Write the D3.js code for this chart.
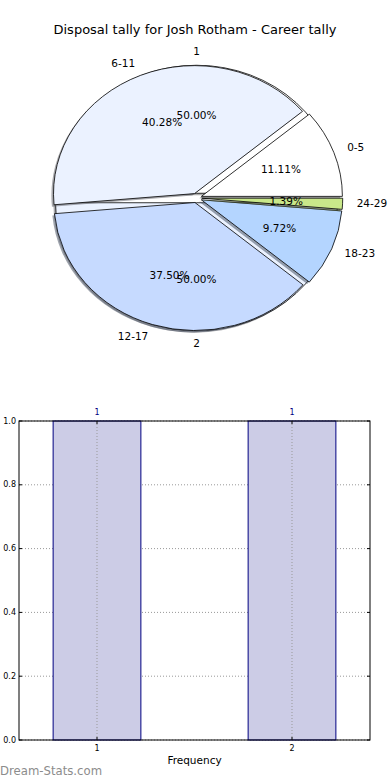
<!DOCTYPE html>
<html>
<head>
<meta charset="utf-8">
<script src="https://cdn.jsdelivr.net/npm/d3@7"></script>
<style>
  body { margin: 0; background: #fff; }
  svg { display: block; font-family: "DejaVu Sans", sans-serif; }
</style>
</head>
<body>
<svg width="390" height="780"></svg>
<script>
// pie data
var outerLabels = ["1", "2"];
var outerValues = [1, 1];
var outerColors = ["#ffffff", "#ebf2ff"];

var bandLabels = ["0-5", "6-11", "12-17", "18-23", "24-29"];
var bandValues = [8, 29, 27, 7, 1];
var bandColors = ["#ffffff", "#ebf2ff", "#c6daff", "#b4d5ff", "#c9e88a"];

// bar data
var barCats = [1, 2];
var barValues = [1, 1];
var yTicks = [0, 0.2, 0.4, 0.6, 0.8, 1.0];

var svg = d3.select("svg");

svg.append("text")
    .attr("x", 195).attr("y", 30)
    .attr("text-anchor", "middle").attr("dominant-baseline", "middle")
    .style("font-size", "13px")
    .text("Disposal tally for Josh Rotham - Career tally");

// pie is squashed into an ellipse, like the original
const cx = 196.5, cy = 198, rx = 141, ry = 128;
const explode = 0.037;

const arc = d3.arc().innerRadius(0).outerRadius(ry);
const pie = d3.pie().sort(null).startAngle(0).endAngle(2 * Math.PI);

var pieLayer = svg.append("g");
var textLayer = svg.append("g");

function drawPie(labels, values, colors) {
    const slices = pie(values);
    slices.forEach((s, i) => {
        // matplotlib angles: counter-clockwise from east
        const t1 = s.startAngle, t2 = s.endAngle;
        const tm = (t1 + t2) / 2;
        const ox = cx + explode * rx * Math.cos(tm);
        const oy = cy - explode * ry * Math.sin(tm);
        const d = arc({ startAngle: Math.PI / 2 - t2, endAngle: Math.PI / 2 - t1 });

        // shadow
        pieLayer.append("path")
            .attr("d", d)
            .attr("transform", `translate(${ox - 0.015 * rx},${oy + 0.015 * ry}) scale(${rx / ry},1)`)
            .attr("fill", d3.rgb(colors[i]).darker(2.5))
            .attr("fill-opacity", 0.55);

        pieLayer.append("path")
            .attr("d", d)
            .attr("transform", `translate(${ox},${oy}) scale(${rx / ry},1)`)
            .attr("fill", colors[i])
            .attr("stroke", "#000")
            .attr("stroke-width", 0.8)
            .attr("vector-effect", "non-scaling-stroke");

        const lx = ox + 1.1 * rx * Math.cos(tm);
        const ly = oy - 1.1 * ry * Math.sin(tm);
        textLayer.append("text")
            .attr("x", lx).attr("y", ly)
            .attr("text-anchor", Math.cos(tm) > 1e-9 ? "start" : (Math.cos(tm) < -1e-9 ? "end" : "middle"))
            .attr("dominant-baseline", "middle")
            .style("font-size", "10.5px")
            .text(labels[i]);

        const px = ox + 0.6 * rx * Math.cos(tm);
        const py = oy - 0.6 * ry * Math.sin(tm);
        textLayer.append("text")
            .attr("x", px).attr("y", py)
            .attr("text-anchor", "middle")
            .attr("dominant-baseline", "middle")
            .style("font-size", "10.5px")
            .text(d3.format(".2f")((s.endAngle - s.startAngle) / (2 * Math.PI) * 100) + "%");
    });
}

drawPie(outerLabels, outerValues, outerColors);
drawPie(bandLabels, bandValues, bandColors);

// ---- bar chart ----
const bLeft = 19, bRight = 370, bTop = 421, bBottom = 740;
const x = d3.scaleLinear().domain([0.6, 2.4]).range([bLeft, bRight]);
const y = d3.scaleLinear().domain([0, 1]).range([bBottom, bTop]);
const barW = 0.45;

var bars = svg.append("g");

// horizontal grid under the bars
bars.selectAll(".hgrid").data(yTicks).join("line")
    .attr("x1", bLeft).attr("x2", bRight)
    .attr("y1", d => y(d)).attr("y2", d => y(d))
    .attr("stroke", "#999").attr("stroke-dasharray", "1,2");

bars.selectAll("rect").data(barCats).join("rect")
    .attr("x", (d) => x(d - barW / 2))
    .attr("width", x(barW) - x(0))
    .attr("y", (d, i) => y(barValues[i]))
    .attr("height", (d, i) => y(0) - y(barValues[i]))
    .attr("fill", "#ccccE6")
    .attr("stroke", "#000080")
    .attr("stroke-width", 1);

bars.selectAll(".vgrid").data(barCats).join("line")
    .attr("x1", d => x(d)).attr("x2", d => x(d))
    .attr("y1", bTop).attr("y2", bBottom)
    .attr("stroke", "#999").attr("stroke-dasharray", "1,2");

bars.selectAll(".vlab").data(barCats).join("text")
    .attr("x", d => x(d))
    .attr("y", (d, i) => y(barValues[i]) - 9)
    .attr("text-anchor", "middle").attr("dominant-baseline", "middle")
    .attr("fill", "#000080")
    .style("font-size", "8px")
    .text((d, i) => barValues[i]);

// frame
bars.append("rect")
    .attr("x", bLeft).attr("y", bTop)
    .attr("width", bRight - bLeft).attr("height", bBottom - bTop)
    .attr("fill", "none").attr("stroke", "#000").attr("stroke-width", 1);

// ticks
yTicks.forEach(t => {
    bars.append("line").attr("x1", bLeft).attr("x2", bLeft + 3).attr("y1", y(t)).attr("y2", y(t)).attr("stroke", "#000");
    bars.append("line").attr("x1", bRight - 3).attr("x2", bRight).attr("y1", y(t)).attr("y2", y(t)).attr("stroke", "#000");
    bars.append("text")
        .attr("x", bLeft - 3).attr("y", y(t))
        .attr("text-anchor", "end").attr("dominant-baseline", "middle")
        .style("font-size", "8px")
        .text(d3.format(".1f")(t));
});
barCats.forEach(c => {
    bars.append("line").attr("x1", x(c)).attr("x2", x(c)).attr("y1", bBottom).attr("y2", bBottom - 3).attr("stroke", "#000");
    bars.append("line").attr("x1", x(c)).attr("x2", x(c)).attr("y1", bTop).attr("y2", bTop + 3).attr("stroke", "#000");
    bars.append("text")
        .attr("x", x(c)).attr("y", bBottom + 8)
        .attr("text-anchor", "middle").attr("dominant-baseline", "middle")
        .style("font-size", "8px")
        .text(c);
});

svg.append("text")
    .attr("x", (bLeft + bRight) / 2).attr("y", 761)
    .attr("text-anchor", "middle").attr("dominant-baseline", "middle")
    .style("font-size", "10.5px")
    .text("Frequency");

svg.append("text")
    .attr("x", 0).attr("y", 771)
    .attr("dominant-baseline", "middle")
    .attr("fill", "#8c8c8c")
    .style("font-size", "11.7px")
    .style("font-weight", "500")
    .text("Dream-Stats.com");
</script>
</body>
</html>
